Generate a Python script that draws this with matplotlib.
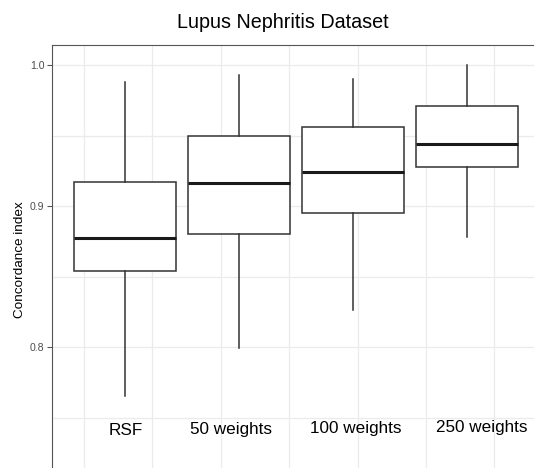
import matplotlib
matplotlib.use("Agg")
import matplotlib.pyplot as plt

plt.rcParams["font.family"] = ["Liberation Sans", "DejaVu Sans"]

# ── Data ─────────────────────────────────────────────────────────────────────
methods      = ["RSF", "50 weights", "100 weights", "250 weights"]
whisker_low  = [0.765, 0.799, 0.826, 0.878]
box_low      = [0.854, 0.880, 0.895, 0.928]
medians      = [0.8775, 0.9165, 0.924, 0.944]
box_high     = [0.917, 0.950, 0.956, 0.971]
whisker_high = [0.988, 0.993, 0.990, 1.000]

label_x = [1.01, 1.93, 3.02, 4.13]
label_y = [0.7405, 0.7415, 0.742, 0.743]

y_ticks = [0.8, 0.9, 1.0]
y_minor = [0.75, 0.85, 0.95]
x_grid  = [0.64, 1.24, 1.84, 2.44, 3.04, 3.64, 4.24, 4.84]
# ──────────────────────────────────────────────────────────────────────────────

W, H, DPI = 534, 468, 100
fig = plt.figure(figsize=(W / DPI, H / DPI), dpi=DPI)

# panel: left edge at 52px, top at 45px; it runs off the right and bottom
px_per_unit = 114.0
left_px, right_px = 52, 600
top_px, bottom_px = 45, 500
ax = fig.add_axes([left_px / W, 1 - bottom_px / H,
                   (right_px - left_px) / W, (bottom_px - top_px) / H])

x0 = 1 + (left_px - 125) / px_per_unit
x1 = 1 + (right_px - 125) / px_per_unit
ax.set_xlim(x0, x1)
y_per_px = 0.1 / 141.0
ax.set_ylim(1.0 - (bottom_px - 65) * y_per_px, 1.0 + (65 - top_px) * y_per_px)

stats = []
for i, name in enumerate(methods):
    stats.append(dict(label=name, med=medians[i], q1=box_low[i], q3=box_high[i],
                      whislo=whisker_low[i], whishi=whisker_high[i], fliers=[]))

ax.bxp(stats, positions=range(1, len(methods) + 1), widths=0.9,
       showcaps=False, showfliers=False, patch_artist=True,
       boxprops=dict(facecolor="white", edgecolor="#333333", linewidth=1.1),
       whiskerprops=dict(color="#333333", linewidth=1.1),
       medianprops=dict(color="#1a1a1a", linewidth=2.2),
       zorder=3)

for name, lx, ly in zip(methods, label_x, label_y):
    ax.text(lx, ly, name, ha="center", va="center", fontsize=12.3, color="black", zorder=4)

# grid like theme_bw
for gx in x_grid:
    ax.axvline(gx, color="#ebebeb", linewidth=0.9, zorder=0)
for gy in y_ticks + y_minor:
    ax.axhline(gy, color="#ebebeb", linewidth=0.9, zorder=0)

ax.set_xticks([])
ax.set_yticks(y_ticks)
ax.set_yticklabels([f"{v:.1f}" for v in y_ticks])
ax.tick_params(axis="y", length=3.5, width=0.8, color="#555555",
               labelsize=7.6, labelcolor="#4d4d4d", pad=2)

for side in ["left", "top", "right", "bottom"]:
    ax.spines[side].set_color("#555555")
    ax.spines[side].set_linewidth(0.8)

fig.text(20 / W, 1 - 260 / H, "Concordance index", rotation=90,
         ha="center", va="center", fontsize=9.7)
fig.text(283 / W, 1 - 23 / H, "Lupus Nephritis Dataset",
         ha="center", va="center", fontsize=14.2)

fig.savefig("out.png", dpi=DPI)
